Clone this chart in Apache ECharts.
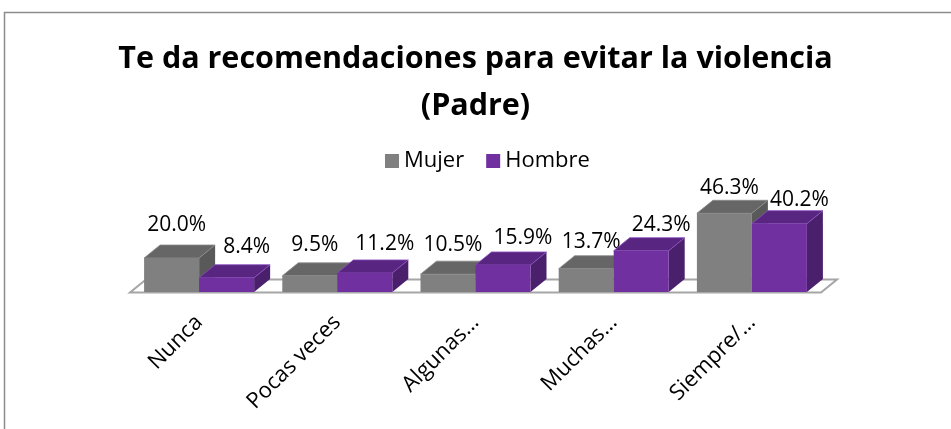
<!DOCTYPE html>
<html>
<head>
<meta charset="utf-8">
<script src="https://cdn.jsdelivr.net/npm/echarts@6/dist/echarts.min.js"></script>
<style>
  html, body { margin: 0; padding: 0; background: #fff; }
  #chart { width: 951px; height: 429px; }
</style>
</head>
<body>
<div id="chart"></div>
<script>
// data
const categories = ['Nunca', 'Pocas veces', 'Algunas…', 'Muchas…', 'Siempre/…']
const mujer = [20.0, 9.5, 10.5, 13.7, 46.3]
const hombre = [8.4, 11.2, 15.9, 24.3, 40.2]

// depth of the fake 3d
const DX = 16
const DY = -13
const FONT = '"Open Sans", "Noto Sans", sans-serif'

const faces = [
  { front: '#808080', top: '#666666', side: '#595959', stroke: '#8a8a8a' },
  { front: '#7030a0', top: '#582680', side: '#4a1f6c', stroke: '#8b4cc0' }
]

// bar with a top face and a side face
const bar3d = (idx) => (params, api) => {
  const cat = api.value(0)
  const val = api.value(1)
  const base = api.coord([cat, 0])
  const top = api.coord([cat, val])
  const band = api.size([1, 0])[0]
  const w = band * 0.398
  const x0 = base[0] - w + idx * w
  const x1 = x0 + w
  const y0 = base[1]
  const y1 = top[1]
  const f = faces[idx]
  return {
    type: 'group',
    children: [
      {
        type: 'polygon',
        shape: { points: [[x1, y1], [x1 + DX, y1 + DY], [x1 + DX, y0 + DY], [x1, y0]] },
        style: { fill: f.side }
      },
      {
        type: 'polygon',
        shape: { points: [[x0, y1], [x1, y1], [x1 + DX, y1 + DY], [x0 + DX, y1 + DY]] },
        style: { fill: f.top, stroke: f.stroke, lineWidth: 0.8 }
      },
      {
        type: 'rect',
        shape: { x: x0, y: y1, width: w, height: y0 - y1 },
        style: { fill: f.front }
      },
      {
        type: 'text',
        x: x0 + w / 2 + (idx ? 20 : 5),
        y: y1 - (32.5 - 1.8 * cat - 1.5 * idx),
        style: {
          text: val.toFixed(1) + '%',
          font: '21px ' + FONT,
          fill: '#000',
          align: 'center',
          verticalAlign: 'middle'
        }
      }
    ]
  }
}

// floor under the bars
const floor = (params, api) => {
  const band = api.size([1, 0])[0]
  const a = api.coord([0, 0])
  const b = api.coord([categories.length - 1, 0])
  const l = a[0] - band / 2
  const r = b[0] + band / 2
  const y = a[1] + 0.5
  return {
    type: 'polygon',
    shape: { points: [[l, y], [r, y], [r + DX, y + DY], [l + DX, y + DY]] },
    style: { fill: '#fff', stroke: '#a6a6a6', lineWidth: 2 }
  }
}

const chart = echarts.init(document.getElementById('chart'))

chart.setOption({
  animation: false,
  title: {
    text: 'Te da recomendaciones para evitar la violencia\n(Padre)',
    left: 'center',
    top: 31,
    textStyle: {
      fontFamily: FONT,
      fontSize: 30.5,
      fontWeight: 'bold',
      color: '#000',
      lineHeight: 47
    }
  },
  legend: {
    data: ['Mujer', 'Hombre'],
    left: 380,
    top: 145,
    icon: 'rect',
    itemWidth: 14,
    itemHeight: 14,
    itemGap: 22,
    textStyle: { fontFamily: FONT, fontSize: 22, color: '#000' }
  },
  grid: { left: 130, right: 130, top: 207, bottom: 137 },
  xAxis: {
    type: 'category',
    data: categories,
    axisLine: { show: false },
    axisTick: { show: false },
    axisLabel: {
      interval: 0,
      rotate: 45,
      margin: 27,
      fontFamily: FONT,
      fontSize: 22,
      color: '#000'
    }
  },
  yAxis: {
    type: 'value',
    min: 0,
    max: 50,
    show: false,
    splitLine: { show: false }
  },
  graphic: [
    {
      type: 'rect',
      shape: { x: 4.5, y: 12.5, width: 1000, height: 500 },
      style: { fill: 'none', stroke: '#8c8c8c', lineWidth: 1.5 },
      z: -1
    }
  ],
  series: [
    {
      type: 'custom',
      name: 'floor',
      renderItem: floor,
      data: [[0, 0]],
      silent: true,
      z: 1
    },
    {
      type: 'custom',
      name: 'Mujer',
      renderItem: bar3d(0),
      itemStyle: { color: '#808080' },
      data: mujer.map((v, i) => [i, v]),
      z: 2
    },
    {
      type: 'custom',
      name: 'Hombre',
      renderItem: bar3d(1),
      itemStyle: { color: '#7030a0' },
      data: hombre.map((v, i) => [i, v]),
      z: 3
    }
  ]
})
</script>
</body>
</html>
